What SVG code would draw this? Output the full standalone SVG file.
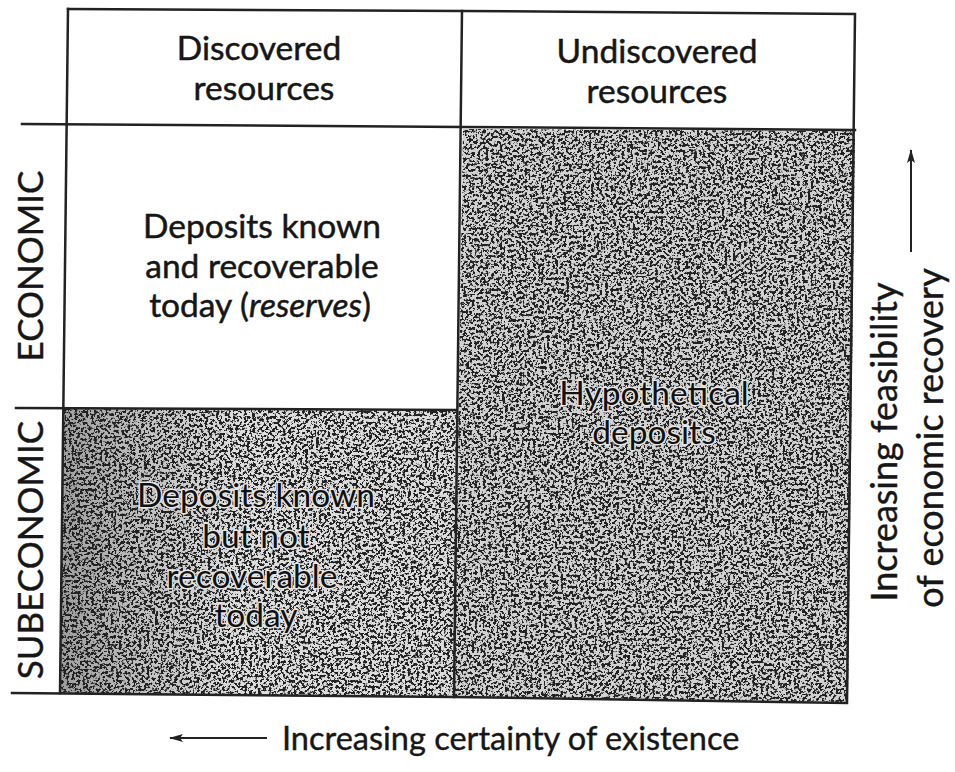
<svg xmlns="http://www.w3.org/2000/svg" width="955" height="772" viewBox="0 0 955 772">
<style>
.t{font-family:Lato,"Open Sans","Liberation Sans",sans-serif;font-size:33.5px;fill:#161616;stroke:#161616;stroke-width:0.5;text-anchor:middle}
.ts{font-family:Lato,"Open Sans","Liberation Sans",sans-serif;font-size:33.5px;fill:#111;stroke:#e6e6e6;stroke-width:3;paint-order:stroke;stroke-linejoin:round;text-anchor:middle}
.ax{font-family:Lato,"Open Sans","Liberation Sans",sans-serif;font-size:32.5px;fill:#161616;stroke:#161616;stroke-width:0.4}
.ay{font-family:Lato,"Open Sans","Liberation Sans",sans-serif;font-size:36px;fill:#161616;stroke:#161616;stroke-width:0.4;text-anchor:middle}
.lbl{font-family:Lato,"Open Sans","Liberation Sans",sans-serif;font-size:35px;fill:#161616;stroke:#161616;stroke-width:0.4;text-anchor:middle}
.ln{stroke:#222;stroke-width:2.5;fill:none;stroke-linecap:square}
.arr{stroke:#222;stroke-width:2;fill:none}
</style>
<defs>
<filter id="stip" x="0" y="0" width="1" height="1" color-interpolation-filters="sRGB">
<feTurbulence type="fractalNoise" baseFrequency="0.36" numOctaves="3" seed="11" result="noise"/>
<feColorMatrix in="noise" type="matrix" values="0 0 0 0 0.13 0 0 0 0 0.13 0 0 0 0 0.13 13 0 0 0 -6.4" result="dots"/>
<feComposite in="dots" in2="SourceGraphic" operator="in" result="dotsIn"/>
<feMerge><feMergeNode in="SourceGraphic"/><feMergeNode in="dotsIn"/></feMerge>
</filter>
<linearGradient id="gl" x1="0" y1="0" x2="1" y2="0">
<stop offset="0" stop-color="#9e9e9e"/>
<stop offset="0.18" stop-color="#bcbcbc"/>
<stop offset="0.45" stop-color="#dedede"/>
<stop offset="1" stop-color="#dcdcdc"/>
</linearGradient>
<marker id="ah" viewBox="0 0 14 10" refX="13" refY="5" markerWidth="14" markerHeight="10" markerUnits="userSpaceOnUse" orient="auto">
<path d="M0,1 L14,5 L0,9 L3,5 Z" fill="#222"/>
</marker>
</defs>
<rect width="955" height="772" fill="#fff"/>

<g id="cell-hypothetical">
<polygon points="463,129 855,131 848,702 454,697" fill="#d2d2d2" filter="url(#stip)"/>
<text class="ts" x="654" y="405" font-size="32.5">Hypothetical</text>
<text class="ts" x="654" y="444" font-size="32.5">deposits</text>
</g>

<g id="cell-subeconomic-known">
<polygon points="64,409 456,410 454,697 60,693" fill="url(#gl)" filter="url(#stip)"/>
<text class="ts" x="256" y="507">Deposits known</text>
<text class="ts" x="256" y="548">but not</text>
<text class="ts" x="252" y="588">recoverable</text>
<text class="ts" x="256" y="627">today</text>
</g>

<g id="header-discovered">
<text class="t" x="259" y="60">Discovered</text>
<text class="t" x="264" y="100">resources</text>
</g>

<g id="header-undiscovered">
<text class="t" x="657" y="63">Undiscovered</text>
<text class="t" x="657" y="103">resources</text>
</g>

<g id="cell-reserves">
<text class="t" x="262" y="238">Deposits known</text>
<text class="t" x="262" y="278">and recoverable</text>
<text class="t" x="260" y="317">today (<tspan font-style="italic">reserves</tspan>)</text>
</g>

<g id="grid">
<polyline class="ln" points="68,9 462,11 855,14 847,703 454,697 12,693"/>
<line class="ln" x1="68" y1="9" x2="60" y2="693"/>
<line class="ln" x1="462" y1="11" x2="454" y2="697"/>
<polyline class="ln" points="22,124 463,127 855,130"/>
<line class="ln" x1="16" y1="408" x2="456" y2="410"/>
</g>

<g id="row-labels">
<text class="lbl" font-size="37" transform="translate(43,266) rotate(-90)">ECONOMIC</text>
<text class="lbl" transform="translate(43,550) rotate(-90)">SUBECONOMIC</text>
</g>

<g id="axis-labels">
<text class="ay" transform="translate(897,442) rotate(-90)">Increasing feasibility</text>
<text class="ay" transform="translate(943,438) rotate(-90)">of economic recovery</text>
<text class="ax" x="282" y="750">Increasing certainty of existence</text>
</g>

<g id="connectors">
<line class="arr" x1="911" y1="252" x2="911" y2="150" marker-end="url(#ah)"/>
<line class="arr" x1="267" y1="738" x2="170" y2="738" marker-end="url(#ah)"/>
</g>
</svg>
